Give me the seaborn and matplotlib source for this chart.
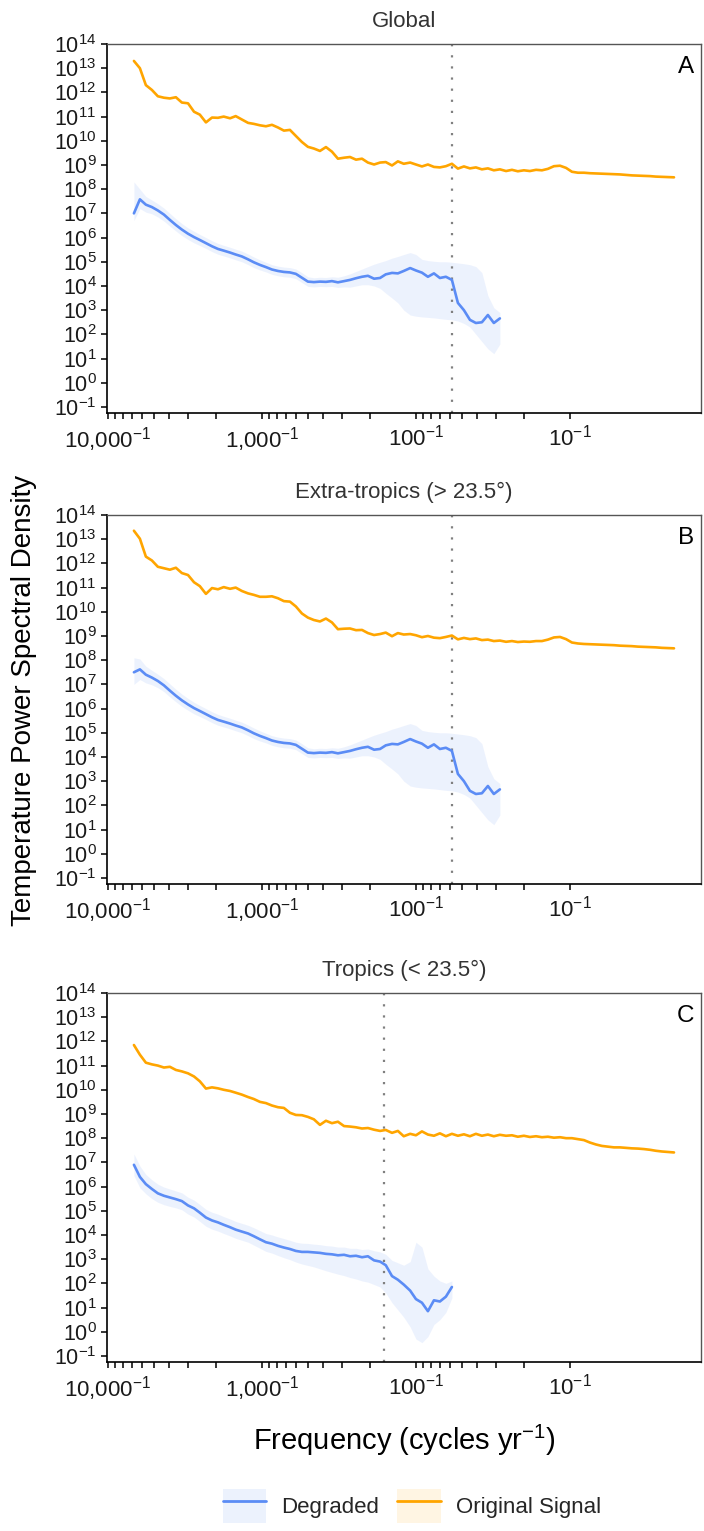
import numpy as np
import pandas as pd
import matplotlib
matplotlib.use("Agg")
import matplotlib.pyplot as plt
import seaborn as sns
from matplotlib.lines import Line2D
from matplotlib.patches import Patch
from matplotlib.ticker import NullLocator

sns.set_theme(style="ticks")
plt.rcParams['font.family'] = ['Liberation Sans', 'DejaVu Sans']
plt.rcParams['mathtext.fontset'] = 'custom'
plt.rcParams['mathtext.rm'] = 'Liberation Sans'
plt.rcParams['mathtext.it'] = 'Liberation Sans:italic'
plt.rcParams['mathtext.bf'] = 'Liberation Sans:bold'
plt.rcParams['mathtext.sf'] = 'Liberation Sans'

# ---------------- data ----------------
# period (years) of each spectral estimate; frequency = 1 / period
period_yr = [6780, 6200, 5670, 5180, 4740, 4330, 3960, 3620, 3310, 3020,
             2760, 2530, 2310, 2110, 1930, 1770, 1610, 1480, 1350, 1230,
             1130, 1030, 942, 861, 787, 720, 658, 602, 550, 503,
             460, 420, 384, 351, 321, 293, 268, 245, 224, 205,
             187, 171, 157, 143, 131, 120, 109, 100, 91.4, 83.6,
             76.4, 69.9, 63.9, 58.4, 53.4, 48.8, 44.6, 40.8, 37.3, 34.1,
             31.2, 28.5, 26.0, 23.8, 21.8, 19.9, 18.2, 16.6, 15.2, 13.9,
             12.7, 11.6, 10.6, 9.71, 8.87, 8.11, 7.42, 6.78, 6.20, 5.67,
             5.18, 4.74, 4.33, 3.96, 3.62, 3.31, 3.02, 2.77, 2.53, 2.31,
             2.11]

# log10 of power spectral density
orig_A = [13.30, 13.00, 12.30, 12.10, 11.84, 11.78, 11.75, 11.80, 11.58, 11.55,
          11.20, 11.08, 10.76, 10.96, 10.95, 11.00, 10.93, 11.02, 10.88, 10.74,
          10.70, 10.64, 10.60, 10.66, 10.55, 10.42, 10.45, 10.20, 9.95, 9.75,
          9.68, 9.58, 9.74, 9.55, 9.26, 9.30, 9.33, 9.22, 9.26, 9.10,
          9.02, 9.10, 9.12, 8.98, 9.15, 9.05, 9.10, 9.02, 8.94, 9.02,
          8.92, 8.90, 8.95, 9.05, 8.85, 8.94, 8.86, 8.90, 8.82, 8.86,
          8.78, 8.82, 8.75, 8.80, 8.74, 8.78, 8.75, 8.80, 8.78, 8.84,
          8.95, 8.97, 8.88, 8.72, 8.68, 8.68, 8.66, 8.65, 8.64, 8.63,
          8.62, 8.61, 8.59, 8.57, 8.56, 8.55, 8.54, 8.52, 8.51, 8.50,
          8.49]
deg_A = [7.00, 7.58, 7.36, 7.26, 7.12, 6.95, 6.73, 6.52, 6.33, 6.16,
         6.02, 5.90, 5.77, 5.64, 5.53, 5.46, 5.38, 5.30, 5.22, 5.10,
         4.98, 4.87, 4.78, 4.68, 4.62, 4.58, 4.56, 4.50, 4.34, 4.18,
         4.16, 4.18, 4.17, 4.20, 4.15, 4.20, 4.25, 4.32, 4.38, 4.42,
         4.30, 4.33, 4.48, 4.54, 4.52, 4.62, 4.74, 4.64, 4.55, 4.38,
         4.52, 4.33, 4.38, 4.25, 3.30, 3.00, 2.60, 2.47, 2.50, 2.80,
         2.47, 2.66]
deg_A_hi = [8.30, 8.00, 7.70, 7.55, 7.40, 7.22, 7.00, 6.78, 6.58, 6.40,
            6.26, 6.13, 6.00, 5.87, 5.76, 5.68, 5.60, 5.52, 5.44, 5.32,
            5.20, 5.08, 4.98, 4.88, 4.82, 4.78, 4.76, 4.70, 4.55, 4.38,
            4.34, 4.36, 4.35, 4.38, 4.36, 4.42, 4.50, 4.60, 4.70, 4.80,
            4.90, 4.98, 5.05, 5.15, 5.22, 5.30, 5.38, 5.30, 5.10, 5.05,
            5.02, 5.00, 5.00, 4.98, 4.95, 4.92, 4.88, 4.80, 4.55, 3.60,
            3.10, 2.90]
deg_A_lo = [6.70, 7.20, 7.05, 6.98, 6.85, 6.68, 6.47, 6.27, 6.08, 5.92,
            5.78, 5.67, 5.55, 5.42, 5.31, 5.24, 5.16, 5.08, 5.00, 4.88,
            4.76, 4.66, 4.58, 4.48, 4.42, 4.38, 4.36, 4.30, 4.14, 3.98,
            3.96, 3.98, 3.97, 3.98, 3.94, 3.96, 3.95, 4.00, 4.05, 4.05,
            4.00, 3.90, 3.70, 3.50, 3.30, 3.00, 2.80, 2.75, 2.72, 2.70,
            2.68, 2.65, 2.62, 2.60, 2.55, 2.45, 2.30, 2.00, 1.70, 1.40,
            1.20, 1.60]

orig_B = [13.35, 13.02, 12.28, 12.12, 11.86, 11.80, 11.74, 11.82, 11.60, 11.52,
          11.22, 11.06, 10.74, 10.98, 10.93, 11.02, 10.95, 11.00, 10.86, 10.76,
          10.70, 10.62, 10.62, 10.64, 10.56, 10.44, 10.42, 10.22, 9.93, 9.76,
          9.66, 9.60, 9.72, 9.56, 9.28, 9.30, 9.31, 9.24, 9.25, 9.12,
          9.04, 9.08, 9.14, 8.99, 9.12, 9.06, 9.08, 9.03, 8.95, 9.00,
          8.93, 8.91, 8.96, 9.02, 8.86, 8.92, 8.87, 8.90, 8.83, 8.85,
          8.79, 8.81, 8.76, 8.79, 8.75, 8.77, 8.76, 8.79, 8.79, 8.85,
          8.94, 8.96, 8.87, 8.73, 8.69, 8.67, 8.66, 8.65, 8.64, 8.63,
          8.62, 8.60, 8.59, 8.58, 8.56, 8.55, 8.54, 8.53, 8.51, 8.50,
          8.49]
deg_B = [7.50, 7.62, 7.40, 7.28, 7.14, 6.96, 6.74, 6.53, 6.34, 6.17] + deg_A[10:]
deg_B_hi = [8.10, 8.05, 7.75, 7.58, 7.42, 7.24, 7.02, 6.80, 6.60, 6.42] + deg_A_hi[10:]
deg_B_lo = [7.00, 7.20, 7.06, 6.98, 6.86, 6.70, 6.48, 6.28, 6.09, 5.93] + deg_A_lo[10:]

orig_C = [11.85, 11.45, 11.12, 11.05, 11.00, 10.92, 10.95, 10.82, 10.76, 10.68,
          10.55, 10.35, 10.05, 10.10, 10.06, 10.00, 9.95, 9.88, 9.80, 9.70,
          9.62, 9.50, 9.45, 9.35, 9.28, 9.25, 9.05, 8.96, 8.95, 8.88,
          8.78, 8.55, 8.72, 8.62, 8.68, 8.50, 8.48, 8.45, 8.40, 8.42,
          8.35, 8.30, 8.34, 8.22, 8.30, 8.08, 8.18, 8.12, 8.28, 8.15,
          8.10, 8.20, 8.08, 8.18, 8.10, 8.16, 8.08, 8.18, 8.10, 8.15,
          8.08, 8.14, 8.10, 8.12, 8.06, 8.10, 8.05, 8.08, 8.04, 8.06,
          8.02, 8.04, 8.00, 8.00, 7.96, 7.92, 7.82, 7.74, 7.68, 7.65,
          7.62, 7.62, 7.60, 7.58, 7.57, 7.55, 7.52, 7.48, 7.45, 7.43,
          7.41]
deg_C = [6.90, 6.40, 6.10, 5.90, 5.72, 5.62, 5.55, 5.48, 5.40, 5.22,
         5.10, 4.92, 4.72, 4.60, 4.52, 4.42, 4.32, 4.22, 4.14, 4.06,
         3.95, 3.82, 3.70, 3.64, 3.55, 3.48, 3.42, 3.34, 3.30, 3.30,
         3.28, 3.26, 3.22, 3.20, 3.16, 3.18, 3.12, 3.14, 3.08, 3.12,
         2.95, 2.90, 2.75, 2.30, 2.15, 1.95, 1.70, 1.35, 1.20, 0.85,
         1.30, 1.25, 1.45, 1.85]
deg_C_hi = [7.35, 6.85, 6.50, 6.28, 6.10, 5.98, 5.90, 5.82, 5.74, 5.56,
            5.44, 5.26, 5.06, 4.94, 4.86, 4.76, 4.66, 4.56, 4.48, 4.40,
            4.30, 4.18, 4.06, 4.00, 3.92, 3.85, 3.78, 3.70, 3.66, 3.65,
            3.62, 3.60, 3.56, 3.54, 3.50, 3.50, 3.45, 3.45, 3.40, 3.42,
            3.35, 3.30, 3.20, 2.95, 2.85, 2.75, 2.90, 3.70, 3.50, 2.60,
            2.30, 2.10, 2.00, 2.10]
deg_C_lo = [6.45, 5.95, 5.70, 5.50, 5.35, 5.25, 5.18, 5.12, 5.04, 4.86,
            4.74, 4.56, 4.36, 4.24, 4.16, 4.06, 3.96, 3.86, 3.78, 3.70,
            3.58, 3.45, 3.32, 3.25, 3.15, 3.06, 2.98, 2.88, 2.80, 2.74,
            2.68, 2.60, 2.52, 2.45, 2.38, 2.32, 2.24, 2.18, 2.10, 2.05,
            1.95, 1.85, 1.60, 1.20, 0.90, 0.60, 0.20, -0.30, -0.45, -0.20,
            0.30, 0.50, 0.80, 1.40]

# cutoff periods (years) shown as dotted lines
cutoff_period = {"A": 58.4, "B": 58.4, "C": 161.0}

panel_titles = ["Global", "Extra-tropics (> 23.5\u00b0)", "Tropics (< 23.5\u00b0)"]
panel_letters = ["A", "B", "C"]
series_names = ["Degraded", "Original Signal"]
x_label_periods = [10000, 1000, 100, 10]
x_label_texts = ["10{,}000", "1{,}000", "100", "10"]
y_exponents = list(range(-1, 15))

panels = [
    dict(orig=orig_A, deg=deg_A, lo=deg_A_lo, hi=deg_A_hi),
    dict(orig=orig_B, deg=deg_B, lo=deg_B_lo, hi=deg_B_hi),
    dict(orig=orig_C, deg=deg_C, lo=deg_C_lo, hi=deg_C_hi),
]

BLUE = "#5B8CF5"
ORANGE = "#FFA500"
palette = {"Degraded": BLUE, "Original Signal": ORANGE}

# ---------------- figure ----------------
W, H = 704, 1531
fig = plt.figure(figsize=(W / 100, H / 100), dpi=100)

left_px, right_px = 107, 701
tops_px = [44, 515, 993]
height_px = 369

freq = 1.0 / np.array(period_yr, dtype=float)

# x ticks at 1/(k*10^n)
tick_periods = [10000] + [k * 10 ** n for n in (3, 2, 1) for k in range(9, 0, -1)]
tick_freqs = [1.0 / p for p in tick_periods]
tick_labels = []
for p in tick_periods:
    if p in x_label_periods:
        tick_labels.append(r"$\mathregular{%s^{-1}}$" % x_label_texts[x_label_periods.index(p)])
    else:
        tick_labels.append("")

for i, (pan, top) in enumerate(zip(panels, tops_px)):
    ax = fig.add_axes([left_px / W, 1 - (top + height_px) / H,
                       (right_px - left_px) / W, height_px / H])
    ax.set_xscale("log")
    ax.set_yscale("log")
    ax.set_facecolor("white")

    n_deg = len(pan["deg"])
    fdeg = freq[:n_deg]
    ax.fill_between(fdeg, 10.0 ** np.array(pan["lo"]), 10.0 ** np.array(pan["hi"]),
                    color=BLUE, alpha=0.11, linewidth=0, zorder=1)

    df = pd.concat([
        pd.DataFrame({"freq": fdeg, "psd": 10.0 ** np.array(pan["deg"]), "series": "Degraded"}),
        pd.DataFrame({"freq": freq, "psd": 10.0 ** np.array(pan["orig"]), "series": "Original Signal"}),
    ], ignore_index=True)
    sns.lineplot(data=df, x="freq", y="psd", hue="series", hue_order=series_names,
                 palette=palette, estimator=None, sort=False, linewidth=1.9,
                 legend=False, ax=ax, zorder=3)

    ax.axvline(1.0 / cutoff_period[panel_letters[i]], color="#808080",
               linestyle=(0, (1, 4)), linewidth=1.6, zorder=2)

    ax.set_xlim(10 ** -4.006, 10 ** -0.149)
    ax.set_ylim(10 ** -1.25, 10 ** 14)

    ax.set_xticks(tick_freqs)
    ax.set_xticklabels(tick_labels)
    ax.xaxis.set_minor_locator(NullLocator())
    ax.set_yticks([10.0 ** e for e in y_exponents])
    ax.set_yticklabels([r"$\mathregular{10^{%d}}$" % e for e in y_exponents])
    ax.yaxis.set_minor_locator(NullLocator())

    ax.tick_params(axis="both", which="major", direction="out", length=4.5,
                   width=1.1, color="black")
    ax.tick_params(axis="x", labelsize=16, pad=4, labelcolor="#1a1a1a")
    ax.tick_params(axis="y", labelsize=15.5, pad=3, labelcolor="#1a1a1a")

    for side in ("left", "bottom"):
        ax.spines[side].set_color("black")
        ax.spines[side].set_linewidth(1.2)
    for side in ("top", "right"):
        ax.spines[side].set_color("#555555")
        ax.spines[side].set_linewidth(1.0)

    ax.set_xlabel("")
    ax.set_ylabel("")
    ax.grid(False)
    ax.set_title(panel_titles[i], fontsize=16, color="#333333", pad=12)
    ax.text(0.988, 0.938, panel_letters[i], transform=ax.transAxes,
            ha="right", va="center", fontsize=17.5, color="black")

fig.text(24 / W, 1 - 700 / H, "Temperature Power Spectral Density", rotation=90,
         ha="center", va="center", fontsize=20, color="black")
fig.text(404 / W, 1 - 1440 / H, r"Frequency (cycles yr$^{\mathregular{-1}}$)",
         ha="center", va="center", fontsize=21, color="black")

handles = [
    (Patch(facecolor=BLUE, alpha=0.11, edgecolor="none"), Line2D([0], [0], color=BLUE, lw=2)),
    (Patch(facecolor=ORANGE, alpha=0.11, edgecolor="none"), Line2D([0], [0], color=ORANGE, lw=2)),
]
fig.legend(handles, series_names, loc="center", bbox_to_anchor=(412 / W, 1 - 1506 / H),
           ncol=2, frameon=False, fontsize=16, handlelength=1.95, handleheight=2.0,
           handletextpad=0.7, columnspacing=0.8)

fig.savefig("out.png", dpi=100)
